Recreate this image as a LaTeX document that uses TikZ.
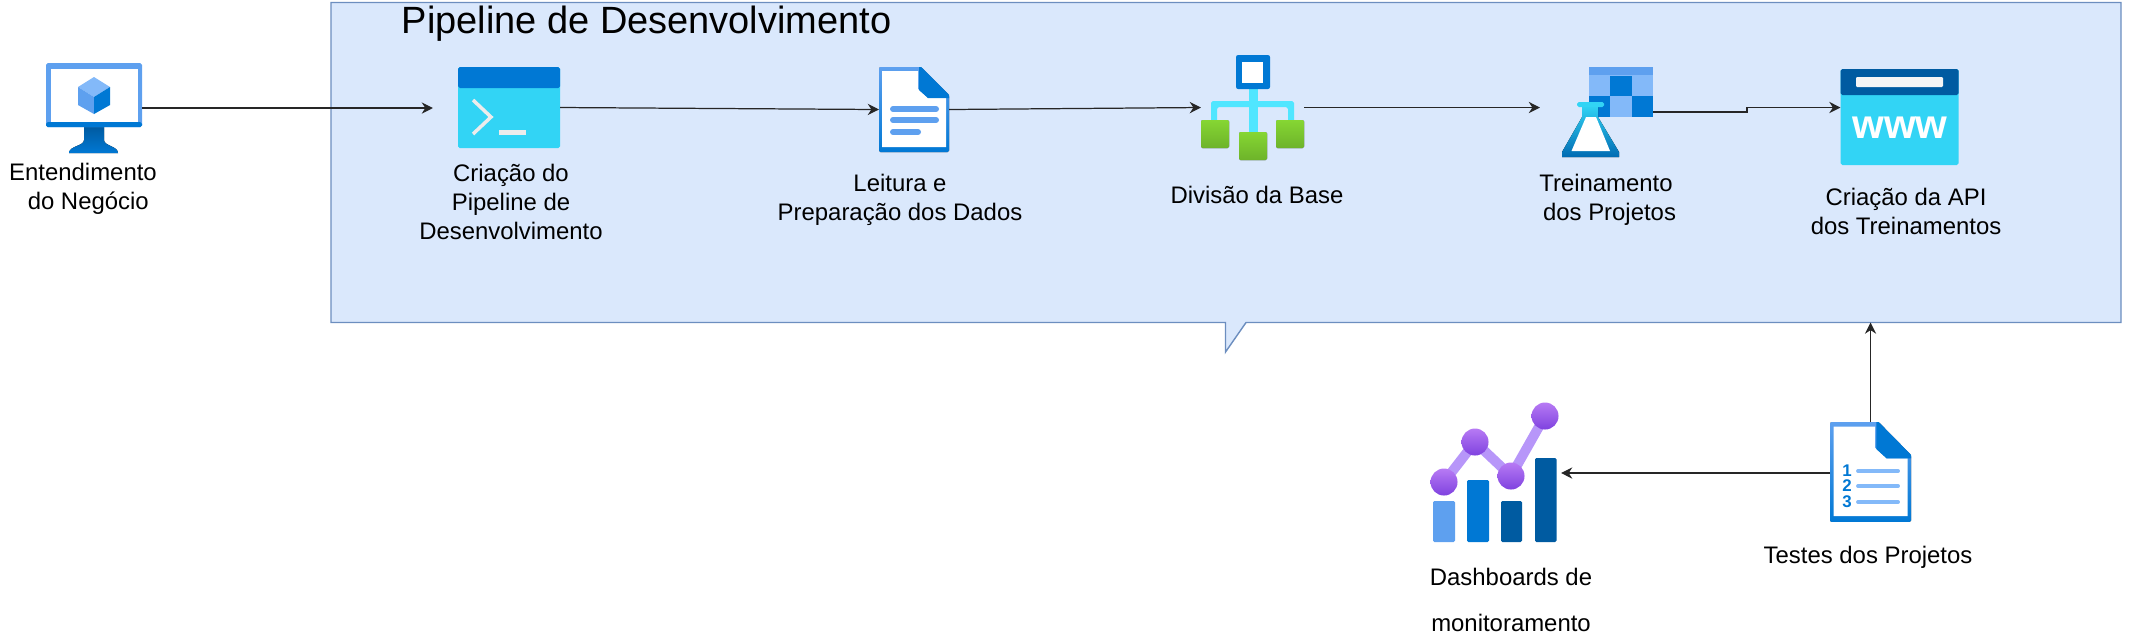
\documentclass[tikz,border=0pt]{standalone}
\usepackage{fontspec}
\setmainfont{Liberation Sans}
\usetikzlibrary{arrows.meta}
\definecolor{panelfill}{HTML}{DAE8FC}
\definecolor{paneledge}{HTML}{6C8EBF}
\definecolor{azlight}{HTML}{83B9F9}
\definecolor{azmid}{HTML}{5EA0EF}
\definecolor{azblue}{HTML}{0078D4}
\definecolor{azdark}{HTML}{005BA1}
\definecolor{azcyan}{HTML}{32D4F5}
\definecolor{azsky}{HTML}{50E6FF}
\definecolor{greentop}{HTML}{86D633}
\definecolor{greenlow}{HTML}{6DB32A}
\definecolor{purplepale}{HTML}{B796F9}
\definecolor{purpletop}{HTML}{B77AF4}
\definecolor{purplelow}{HTML}{7F42DF}
\tikzset{
  flow/.style={draw=black!85, line width=0.35pt, -{Stealth[length=3.2pt,width=3.2pt]}},
  iconbox/.style={inner sep=0pt, outer sep=0pt},
  lbl/.style={font=\fontsize{6.8}{8.25}\selectfont, align=center, inner sep=0pt},
  greenbox/.style={rounded corners=0.4pt, top color=greentop, bottom color=greenlow},
  dotmark/.style={circle, minimum size=0.27cm, inner sep=0pt, top color=purpletop, bottom color=purplelow},
  docpage/.pic={
    \fill[top color=azmid, bottom color=azblue, rounded corners=0.4pt] (0,0) -- (42,0) -- (70,28) -- (70,85) -- (0,85) -- cycle;
    \fill[white] (3,4) -- (39,4) -- (39,22) -- (49,31) -- (67,31) -- (67,80) -- (3,80) -- cycle;
    \fill[azblue] (40,0) -- (42,0) -- (70,28) -- (70,31) -- (49,31) -- (40,23) -- cycle;
  }
}
\begin{document}
\begin{tikzpicture}[x=0.01cm, y=-0.01cm]
  \useasboundingbox (0,0) rectangle (2131,641);

  \draw[fill=panelfill, draw=paneledge, line width=0.4pt] (331,2.5) -- (2121,2.5) -- (2121,322.5) -- (1246,322.5) -- (1225.5,352) -- (1225.5,322.5) -- (331,322.5) -- cycle;
  \node[anchor=west, inner sep=0pt, font=\fontsize{10.8}{13}\selectfont] (title) at (401,24) {Pipeline de Desenvolvimento};
  \coordinate (panelin) at (1870.5,322.5);

  \node[iconbox, minimum width=0.96cm, minimum height=0.90cm] (pc) at (94,108) {};
  \fill[top color=azdark, bottom color=azblue] (84,127) -- (104,127) -- (104,140) .. controls (104,146) and (118,146) .. (118,153) -- (69,153) .. controls (69,146) and (84,146) .. (84,140) -- cycle;
  \fill[azmid, rounded corners=0.5pt] (46,63) rectangle (142,127);
  \fill[azblue, rounded corners=0.5pt] (46,122) rectangle (142,127);
  \fill[white] (51,69) rectangle (137.5,122);
  \fill[azlight] (94,77) -- (110,87) -- (94,97) -- (78,87) -- cycle;
  \fill[azmid] (78,87) -- (94,97) -- (94,114) -- (78,105) -- cycle;
  \fill[azblue] (110,87) -- (94,97) -- (94,114) -- (110,105) -- cycle;
  \node[lbl] (pctxt) at (83,189) {Entendimento\\\hspace*{3pt}do Negócio};

  \node[iconbox, minimum width=1.02cm, minimum height=0.81cm] (term) at (509,107.5) {};
  \fill[azcyan, rounded corners=0.5pt] (458,67) rectangle (560,148);
  \fill[azblue, rounded corners=0.5pt] (458,67) rectangle (560,88);
  \draw[white!85!gray, line width=1pt] (473,100) -- (491,117) -- (473,134);
  \fill[white!85!gray] (499,130) rectangle (526,135);
  \node[lbl] (termtxt) at (511,202) {Criação do\\Pipeline de\\Desenvolvimento};

  \node[iconbox, minimum width=0.70cm, minimum height=0.85cm] (read) at (914,109.5) {};
  \pic at (879,67) {docpage};
  \draw[azmid, line width=1.7pt, line cap=round] (893,109) -- (936,109);
  \draw[azmid, line width=1.7pt, line cap=round] (893,120) -- (936,120);
  \draw[azmid, line width=1.7pt, line cap=round] (893,132) -- (918,132);
  \node[lbl] (readtxt) at (900,199.5) {Leitura e\\Preparação dos Dados};

  \node[iconbox, minimum width=1.03cm, minimum height=1.05cm] (split) at (1252.5,107.5) {};
  \fill[azsky] (1249,85) rectangle (1257.5,135);
  \fill[azsky, rounded corners=0.5pt] (1211,125) -- (1211,101) -- (1294,101) -- (1294,125) -- (1288,125) -- (1288,107) -- (1217,107) -- (1217,125) -- cycle;
  \fill[azblue, rounded corners=0.6pt] (1236,55) rectangle (1270,89);
  \fill[white] (1242,62) rectangle (1263,83);
  \fill[greenbox] (1201,120) rectangle (1229,148);
  \fill[greenbox] (1276,120) rectangle (1304,148);
  \fill[greenbox] (1239,132) rectangle (1267,160);
  \node[lbl] (splittxt) at (1257,195) {Divisão da Base};

  \node[iconbox, minimum width=0.91cm, minimum height=0.90cm] (train) at (1607.5,112) {};
  \fill[azlight] (1589,67) rectangle (1653,117);
  \fill[azmid] (1589,67) rectangle (1653,75);
  \fill[azblue] (1610,76) rectangle (1632,96);
  \fill[azblue] (1589,96) rectangle (1610,117);
  \fill[azblue] (1632,96) rectangle (1653,117);
  \fill[top color=azcyan, bottom color=cyan!60!blue!70!black] (1582,105) -- (1598,105) -- (1598,117) -- (1619,152) -- (1619,157) -- (1562,157) -- (1562,152) -- (1582,117) -- cycle;
  \fill[azcyan, rounded corners=0.5pt] (1577,102) rectangle (1604,107);
  \fill[white] (1586,117) -- (1596,117) -- (1610,151) -- (1571.5,151) -- cycle;
  \node[lbl] (traintxt) at (1606,199.5) {Treinamento\\\hspace*{2pt}dos Projetos};

  \node[iconbox, minimum width=1.18cm, minimum height=0.96cm] (api) at (1899.5,117) {};
  \fill[azcyan, rounded corners=0.5pt] (1840.5,69) rectangle (1958.5,165);
  \fill[azdark, rounded corners=0.5pt] (1840.5,69) rectangle (1958.5,95);
  \fill[white!92!gray, rounded corners=0.3pt] (1856,77) rectangle (1943,87);
  \node[inner sep=0pt, text=white, font=\fontsize{11.6}{12}\selectfont\bfseries] (apiwww) at (1900,128) {www};
  \node[lbl] (apitxt) at (1906,211) {Criação da API\\dos Treinamentos};

  \node[iconbox, minimum width=0.81cm, minimum height=1.00cm] (test) at (1870.5,472) {};
  \pic[xscale=1.157, yscale=1.176] at (1830,422) {docpage};
  \foreach \n/\yy in {1/471,2/486,3/502} {
    \node[inner sep=0pt, text=azblue, font=\fontsize{4.8}{5}\selectfont\bfseries] (num\n) at (1847,\yy) {\n};
    \draw[azlight, line width=1.1pt, line cap=round] (1858,\yy) -- (1898,\yy);
  }
  \node[lbl] (testtxt) at (1868,557) {Testes dos Projetos};

  \node[iconbox, minimum width=1.28cm, minimum height=1.40cm] (dash) at (1494,472) {};
  \fill[azmid, rounded corners=0.4pt] (1433,501) rectangle (1455,542);
  \fill[azblue, rounded corners=0.4pt] (1467,480) rectangle (1489,542);
  \fill[azdark, rounded corners=0.4pt] (1501,501) rectangle (1522,542);
  \fill[azdark, rounded corners=0.4pt] (1535,458) rectangle (1556.5,542);
  \draw[purplepale, line width=2.8pt] (1444,482) -- (1475,442) -- (1511,476) -- (1545,416);
  \node[dotmark] (dot1) at (1444,482) {};
  \node[dotmark] (dot2) at (1475,442) {};
  \node[dotmark] (dot3) at (1511,476) {};
  \node[dotmark] (dot4) at (1545,416) {};
  \node[lbl] (dashtxt) at (1511,600) {Dashboards de\\[4.8pt]monitoramento};

  \coordinate (stepa) at (1747,112);
  \coordinate (stepb) at (1747,107.5);
  \draw[flow, shorten >=0.25cm] (pc.east) -- (term.west |- pc.east);
  \draw[flow] (term.east) -- (read.west);
  \draw[flow] (read.east) -- (split.west);
  \draw[flow, shorten >=0.22cm] (split.east) -- (train.west |- split.east);
  \draw[flow] (train.east) -- (stepa) -- (stepb) -- (api.west |- stepb);
  \draw[flow] (test.north) -- (panelin);
  \draw[flow, shorten >=0.03cm] (test.west |- 0,473) -- (dash.east |- 0,473);
\end{tikzpicture}
\end{document}
